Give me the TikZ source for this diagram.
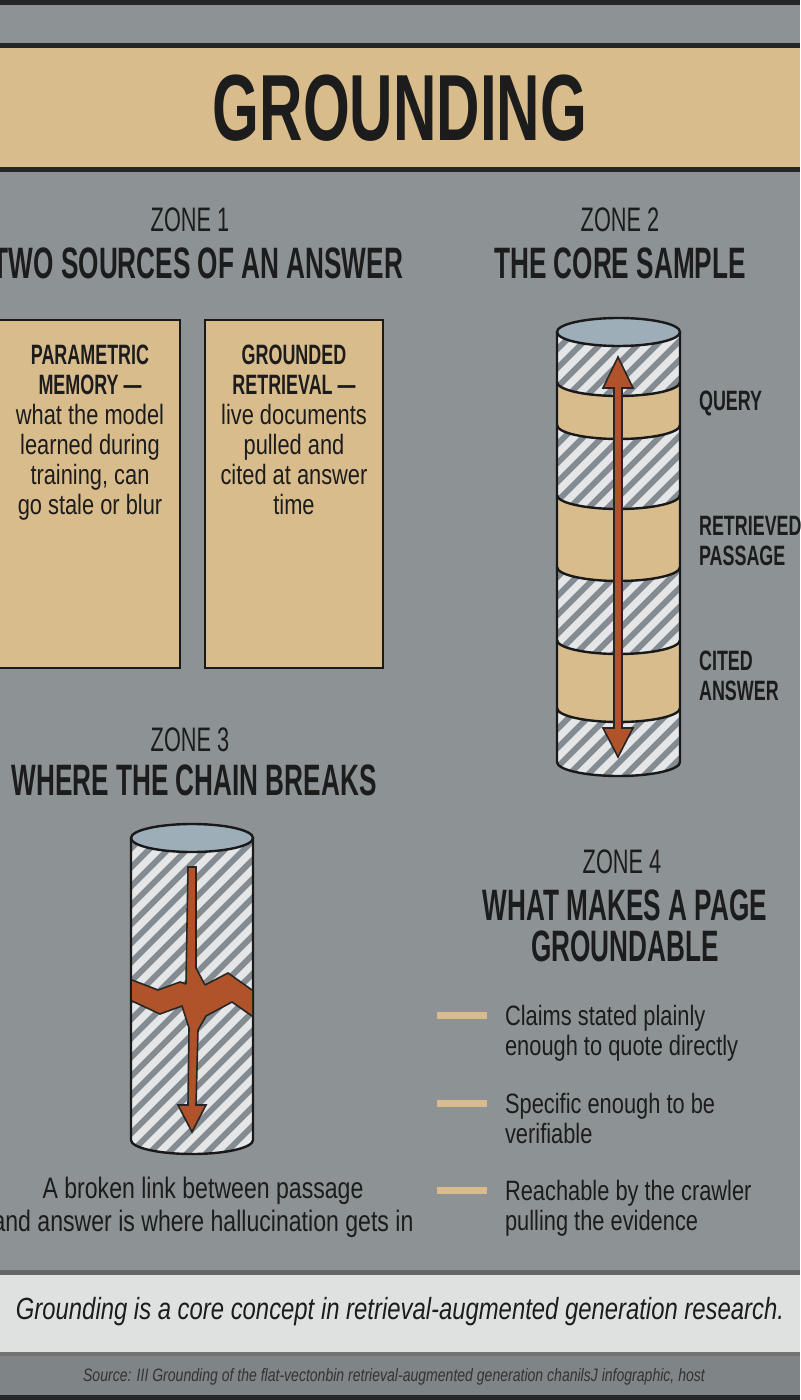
\documentclass[tikz,border=0pt]{standalone}
\usepackage{fontspec}
\setmainfont{Liberation Sans}[FakeStretch=0.78]
\newfontfamily\cond{Liberation Sans}[FakeStretch=0.64]
\newfontfamily\condh{Liberation Sans}[FakeStretch=0.595]
\begin{document}
\begin{tikzpicture}[x=0.5pt,y=-0.5pt,
  ink/.style={draw=black!90,line width=1.2pt},
  tan/.style={fill=tanc},
  head/.style={font=\condh\bfseries\fontsize{22}{24}\selectfont,text=txt},
  zone/.style={font=\cond\fontsize{17}{19}\selectfont,text=txt},
  lab/.style={font=\cond\bfseries\fontsize{14}{15}\selectfont,text=txt,align=left,anchor=west},
  body/.style={font=\fontsize{14}{15}\selectfont,text=txt},
  stripe/.style={white!78!stripeg,line width=3.6pt},
  arr/.style={fill=brownc,draw=black!85,line width=0.8pt,line join=miter}]
\definecolor{bg}{HTML}{8D9395}
\definecolor{tanc}{HTML}{D8BC8C}
\definecolor{txt}{HTML}{1C1C1C}
\definecolor{brownc}{HTML}{B0532A}
\definecolor{stripeg}{HTML}{858C91}
\definecolor{topc}{HTML}{9DAEB8}
\useasboundingbox (0,0) rectangle (800,1400);
\clip (0,0) rectangle (800,1400);
\fill[bg] (0,0) rectangle (800,1400);
% top
\fill[black!85] (0,0) rectangle (800,5);
\fill[black!85] (0,43) rectangle (800,48);
\fill[tanc] (0,48) rectangle (800,167);
\fill[black!85] (0,167) rectangle (800,172);
\node[font=\cond\bfseries\fontsize{47}{50}\selectfont,text=txt] (title) at (400,108) {GROUNDING};
% zone headers
\node[zone] (z1) at (190,220) {ZONE 1};
\node[head] (h1) at (198,263) {TWO SOURCES OF AN ANSWER};
\node[zone] (z2) at (620,220) {ZONE 2};
\node[head] (h2) at (620,263) {THE CORE SAMPLE};
\node[zone] (z3) at (190,740) {ZONE 3};
\node[head] (h3) at (194,780) {WHERE THE CHAIN BREAKS};
\node[zone] (z4) at (622,862) {ZONE 4};
\node[head,align=center,font=\condh\bfseries\fontsize{22}{20.5}\selectfont] (h4) at (625,926) {WHAT MAKES A PAGE\\GROUNDABLE};
% boxes
\draw[ink,tan] (-5,320) rectangle (180,668);
\draw[ink,tan] (205,320) rectangle (383,668);
\node[align=center,anchor=north,text=txt,font=\fontsize{14}{15}\selectfont] (b1) at (90,338)
  {{\cond\bfseries PARAMETRIC}\\{\cond\bfseries MEMORY —}\\what the model\\learned during\\training, can\\go stale or blur};
\node[align=center,anchor=north,text=txt,font=\fontsize{14}{15}\selectfont] (b2) at (294,338)
  {{\cond\bfseries GROUNDED}\\{\cond\bfseries RETRIEVAL —}\\live documents\\pulled and\\cited at answer\\time};
% cylinder 2
\def\xa{557}\def\xb{680}\def\cx{618.5}\def\rx{61.5}\def\ry{14}
\begin{scope}
\clip (\xa,332) -- (\xa,762) arc[start angle=180,end angle=0,x radius=\rx,y radius=\ry] -- (\xb,332) -- cycle;
\fill[stripeg] (500,300) rectangle (740,800);
\foreach \k in {0,...,36} {\draw[stripe] (540,300+\k*19) -- ++(160,-160);}
\foreach \a/\b in {382/425,495/567,640/708}{
  \fill[tanc] (\xa,\a) arc[start angle=180,end angle=0,x radius=\rx,y radius=\ry] -- (\xb,\b) arc[start angle=0,end angle=180,x radius=\rx,y radius=\ry] -- cycle;}
\end{scope}
\foreach \a in {382,425,495,567,640,708}{
  \draw[ink] (\xa,\a) arc[start angle=180,end angle=0,x radius=\rx,y radius=\ry];}
\draw[ink] (\xa,332) -- (\xa,762) arc[start angle=180,end angle=0,x radius=\rx,y radius=\ry] -- (\xb,332);
\draw[ink,fill=topc] (\cx,332) ellipse[x radius=\rx,y radius=\ry];
\draw[arr] (618,357) -- (633,388) -- (622,388) -- (622,728) -- (633,728) -- (618,757) -- (603,728) -- (614,728) -- (614,388) -- (603,388) -- cycle;
\node[lab] (q) at (692,403) {QUERY};
\node[lab] (rp) at (692,541) {RETRIEVED\\PASSAGE};
\node[lab] (ca) at (692,676) {CITED\\ANSWER};
% cylinder 3
\def\ya{131}\def\yb{253}\def\cy{192}\def\ry{14}\def\rr{61}
\begin{scope}
\clip (\ya,838) -- (\ya,1140) arc[start angle=180,end angle=0,x radius=\rr,y radius=\ry] -- (\yb,838) -- cycle;
\fill[stripeg] (100,800) rectangle (300,1200);
\foreach \k in {0,...,28} {\draw[stripe] (110,860+\k*19) -- ++(170,-170);}
\end{scope}
\draw[ink] (\ya,838) -- (\ya,1140) arc[start angle=180,end angle=0,x radius=\rr,y radius=\ry] -- (\yb,838);
\draw[ink,fill=topc] (\cy,838) ellipse[x radius=\rr,y radius=\ry];
\fill[brownc] (132,980) -- (158,990) -- (180,982) -- (186,984) -- (188,867) -- (196,867) -- (196,968) -- (205,985) -- (228,973) -- (252,990) -- (252,1016)
  -- (232,1002) -- (206,1016) -- (198,1030) -- (196,1105) -- (206,1105) -- (192,1132) -- (178,1105) -- (188,1105) -- (189,1028) -- (182,1006) -- (160,1014) -- (132,1001) -- cycle;
\begin{scope}[black!85,line width=0.8pt,line join=miter]
\draw (186,984) -- (188,867) -- (196,867) -- (196,968) -- (205,985);
\draw (198,1030) -- (196,1105) -- (206,1105) -- (192,1132) -- (178,1105) -- (188,1105) -- (189,1028);
\draw (132,980) -- (158,990) -- (180,982) -- (186,984);
\draw (205,985) -- (228,973) -- (252,990);
\draw (132,1001) -- (160,1014) -- (182,1006) -- (189,1028);
\draw (252,1016) -- (232,1002) -- (206,1016) -- (198,1030);
\end{scope}
\node[body,align=center,font=\fontsize{14.8}{16.5}\selectfont] (cap) at (203,1207) {A broken link between passage\\and answer is where hallucination gets in};
% zone 4 bullets
\foreach \y/\t [count=\i] in {1015/{Claims stated plainly\\enough to quote directly},1103/{Specific enough to be\\verifiable},1190/{Reachable by the crawler\\pulling the evidence}}{
  \fill[tanc] (437,\y-3.5) rectangle (487,\y+3.5);
  \node[body,align=left,anchor=north west] (bl\i) at (498,\y-17) {\t};}
% footer
\fill[black!60] (0,1270) rectangle (800,1275);
\fill[white!72!bg] (0,1275) rectangle (800,1352);
\fill[black!55] (0,1352) rectangle (800,1356);
\fill[black!10!bg] (0,1356) rectangle (800,1395);
\fill[black!85] (0,1395) rectangle (800,1400);
\node[font=\itshape\fontsize{15.3}{17}\selectfont,text=txt] (foot) at (400,1312) {Grounding is a core concept in retrieval-augmented generation research.};
\node[font=\itshape\fontsize{9}{10}\selectfont,text=black!80] (src) at (394,1377) {Source: III Grounding of the flat-vectonbin retrieval-augmented generation chanilsJ infographic, host};
\end{tikzpicture}
\end{document}
